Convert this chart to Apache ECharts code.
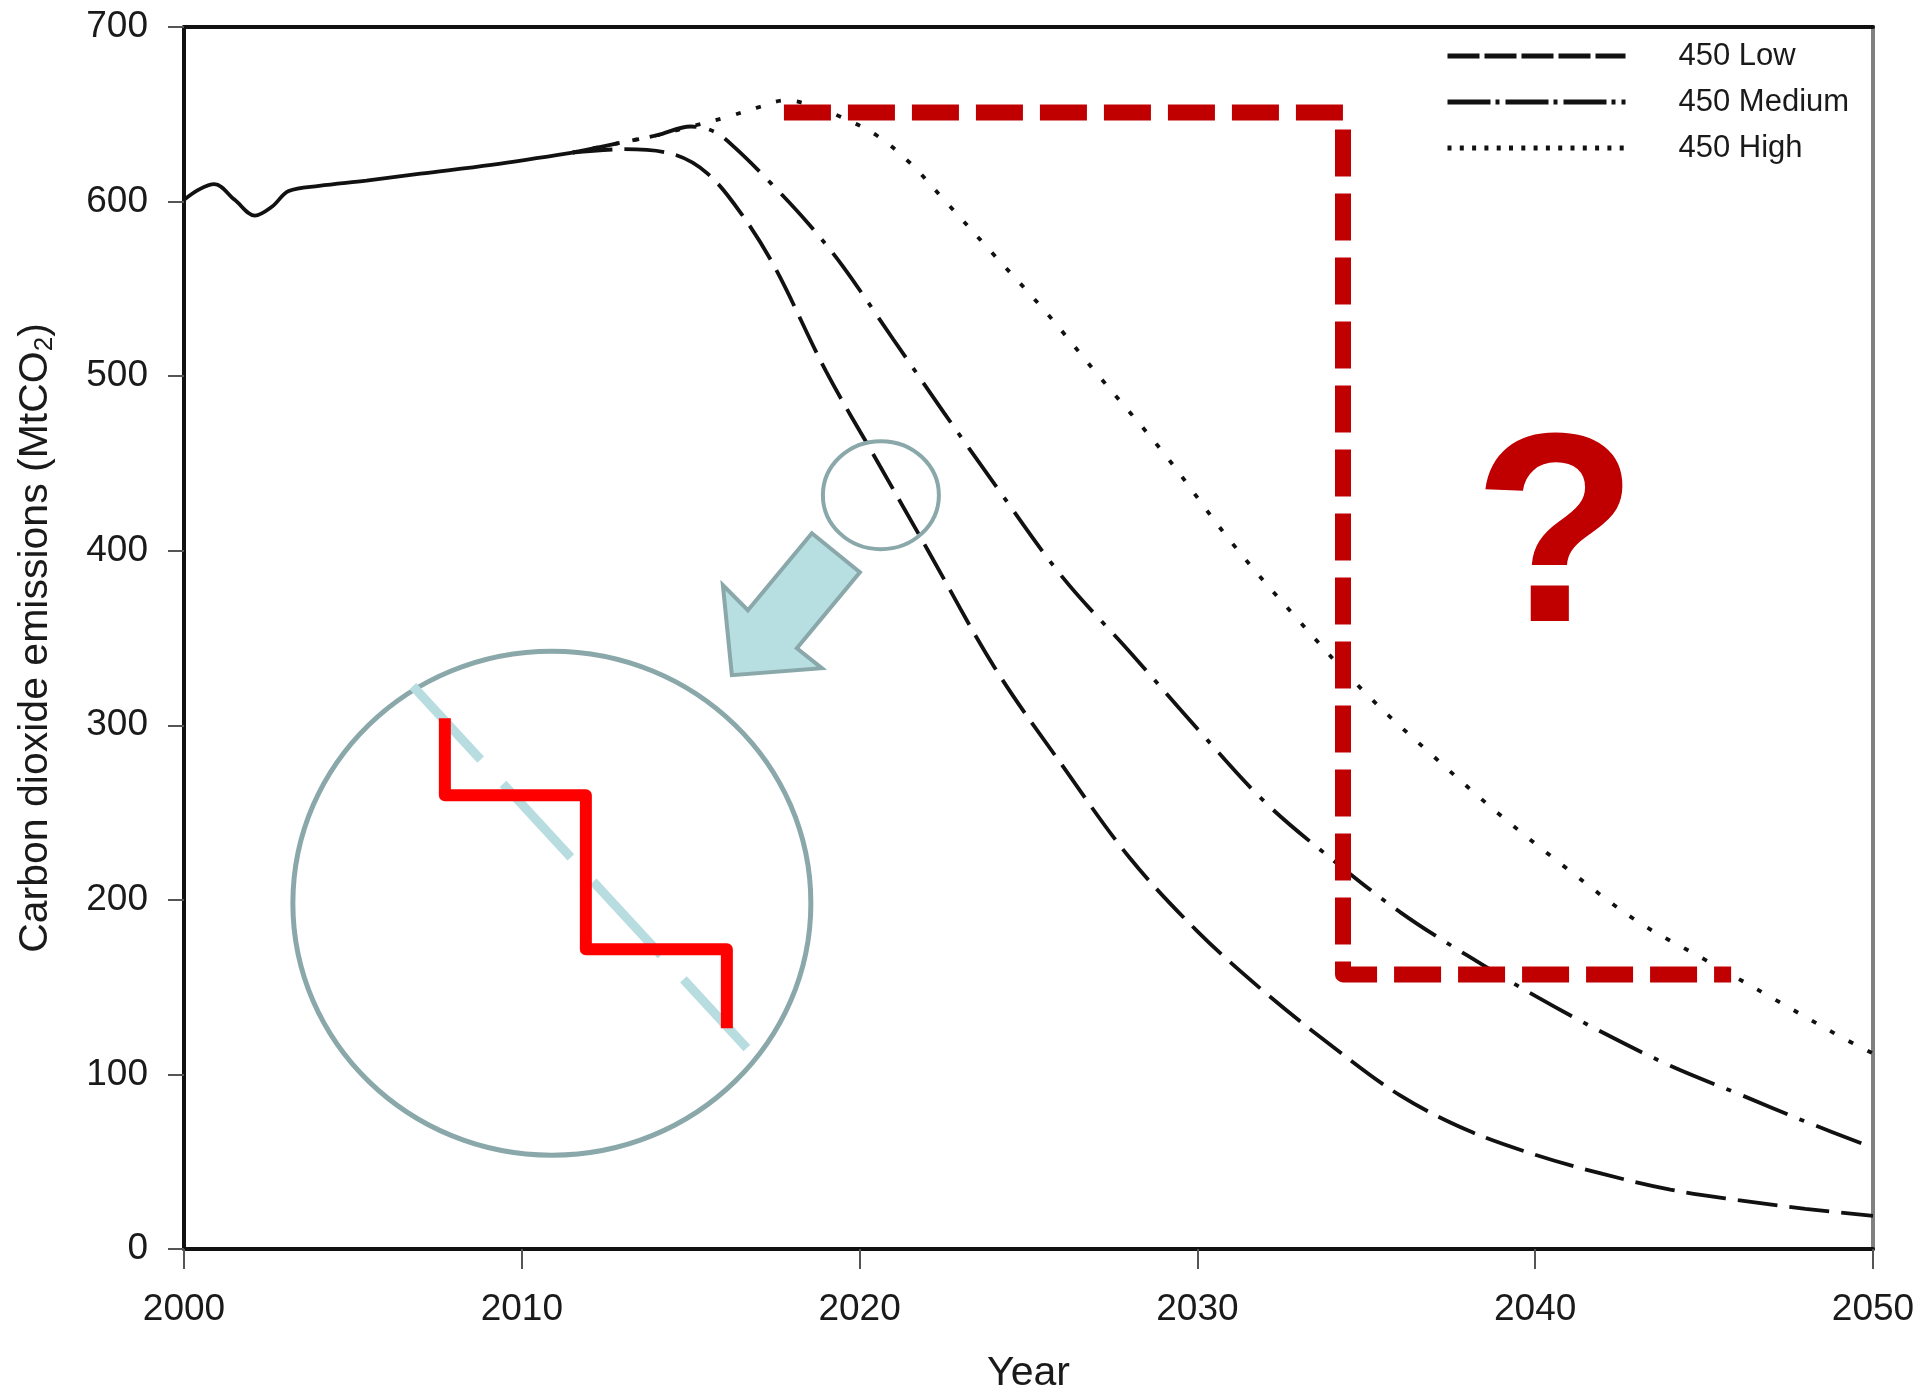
<!DOCTYPE html>
<html>
<head>
<meta charset="utf-8">
<script src="https://cdn.jsdelivr.net/npm/echarts@6/dist/echarts.min.js"></script>
<style>
  html, body { margin: 0; padding: 0; background: #ffffff; }
  #chart { width: 1920px; height: 1392px; }
</style>
</head>
<body>
<div id="chart"></div>
<script>
// ---------------- data ----------------
const xTicks = [2000, 2010, 2020, 2030, 2040, 2050];
const yTicks = [0, 100, 200, 300, 400, 500, 600, 700];

const histYears  = [2000, 2000.45, 2000.9, 2001.5, 2002.1, 2002.6, 2003.1, 2004, 2005.4, 2007, 2009.1, 2011.5];
const histValues = [601, 607, 610, 601, 592, 597, 606, 609, 612, 616, 621, 628];

const lowYears  = [2011.5, 2013, 2014.5, 2015.5, 2016.5, 2017.5, 2019, 2020.5, 2022, 2024, 2026, 2028, 2030, 2032, 2034, 2036, 2038, 2040, 2042, 2044, 2046, 2048, 2050];
const lowValues = [628, 630, 627, 616, 593, 562, 503, 452, 401, 333, 277, 224, 182, 147, 116, 88, 68, 54, 43, 34, 28, 23, 19];

const medYears  = [2011.5, 2013, 2014, 2015, 2015.7, 2016.3, 2017.4, 2018.5, 2019.5, 2021, 2022.5, 2024, 2026, 2028, 2030, 2032, 2034, 2036, 2038, 2040, 2042, 2044, 2046, 2048, 2050];
const medValues = [628, 634, 638, 643, 640, 631, 610, 587, 563, 521, 479, 438, 385, 342, 298, 256, 223, 193, 168, 145, 124, 105, 89, 73, 58];

const highYears  = [2011.5, 2013, 2014, 2015, 2016, 2017, 2017.8, 2018.6, 2019.5, 2020.5, 2021.5, 2022.5, 2024, 2025.5, 2027, 2029, 2031, 2033, 2035, 2037, 2039, 2041, 2043, 2045, 2047, 2049, 2050];
const highValues = [628, 634, 638, 643, 648, 654, 658, 655, 648, 638, 622, 601, 569, 537, 502, 456, 405, 360, 318, 282, 248, 217, 188, 166, 144, 122, 112];

const seriesNames = ['450 Low', '450 Medium', '450 High'];

// red dashed "gap" annotation (data coordinates)
const boxYears  = [2017.76, 2034.31, 2034.31, 2045.8];
const boxValues = [651, 651, 157.3, 157.3];

// annotation anchors (data coordinates)
const questionAnchor = [2040.6, 325];
const zoomCircleAnchor = [2020.63, 431.8];
const insetAnchor = [2010.89, 198.1];

const zip = (xs, ys) => xs.map((x, i) => [x, ys[i]]);

// ---------------- chart ----------------
const FONT = '"Liberation Sans", Arial, Helvetica, sans-serif';
const chart = echarts.init(document.getElementById('chart'), null, { renderer: 'canvas' });

const legendDash = [[32, 5], [43, 5, 4, 6], [4, 8.3]];

const option = {
  animation: false,
  backgroundColor: '#ffffff',
  textStyle: { fontFamily: FONT },
  grid: { left: 184, right: 47, top: 27, bottom: 143, containLabel: false, outerBoundsMode: 'none' },
  legend: {
    data: seriesNames.map((n, i) => ({
      name: n,
      lineStyle: { color: '#111', width: 5, type: legendDash[i], cap: 'butt' },
      itemStyle: { opacity: 0 }
    })),
    orient: 'vertical',
    left: 1440,
    top: 33,
    itemWidth: 178,
    itemHeight: 14,
    itemGap: 10,
    itemStyle: { opacity: 0 },
    textStyle: { fontSize: 31, color: '#1a1a1a', fontFamily: FONT, lineHeight: 36, padding: [0, 0, 0, 48] }
  },
  xAxis: [{
    type: 'value', min: xTicks[0], max: xTicks[xTicks.length - 1], interval: 10,
    name: 'Year', nameLocation: 'middle', nameGap: 104,
    nameTextStyle: { fontSize: 41, color: '#1a1a1a', fontFamily: FONT },
    axisLine: { show: true, onZero: false, lineStyle: { color: '#111', width: 4 } },
    axisTick: { show: true, inside: false, length: 20, lineStyle: { color: '#555', width: 2 } },
    axisLabel: { fontSize: 37, color: '#1a1a1a', margin: 42, fontFamily: FONT, formatter: v => String(v) },
    splitLine: { show: false }
  }, {
    type: 'value', position: 'top', min: xTicks[0], max: xTicks[xTicks.length - 1],
    axisLine: { show: true, onZero: false, lineStyle: { color: '#111', width: 4 } },
    axisTick: { show: false }, axisLabel: { show: false }, splitLine: { show: false }
  }],
  yAxis: [{
    type: 'value', min: yTicks[0], max: yTicks[yTicks.length - 1], interval: 100,
    name: 'Carbon dioxide emissions (MtCO{sub|2})',
    nameLocation: 'middle', nameGap: 126, nameRotate: 90,
    nameTextStyle: {
      fontSize: 41, color: '#1a1a1a', fontFamily: FONT,
      rich: { sub: { fontSize: 26, color: '#1a1a1a', fontFamily: FONT, verticalAlign: 'bottom', padding: [18, 0, 0, 0] } }
    },
    axisLine: { show: true, onZero: false, lineStyle: { color: '#111', width: 4 } },
    axisTick: { show: true, inside: false, length: 16, lineStyle: { color: '#555', width: 2 } },
    axisLabel: { fontSize: 37, color: '#1a1a1a', margin: 36, fontFamily: FONT },
    splitLine: { show: false }
  }, {
    type: 'value', position: 'right', min: yTicks[0], max: yTicks[yTicks.length - 1],
    axisLine: { show: true, onZero: false, lineStyle: { color: '#808080', width: 4 } },
    axisTick: { show: false }, axisLabel: { show: false }, splitLine: { show: false }
  }],
  series: [
    {
      name: 'Historical', type: 'line', data: zip(histYears, histValues),
      symbol: 'none', smooth: 0.35, silent: true, z: 3,
      itemStyle: { color: '#111' },
      lineStyle: { color: '#111', width: 3.8, type: 'solid' }
    },
    {
      name: seriesNames[0], type: 'line', data: zip(lowYears, lowValues),
      symbol: 'none', smooth: 0.35, silent: true, z: 3,
      itemStyle: { color: '#111' },
      lineStyle: { color: '#111', width: 3.8, type: [40, 12], cap: 'butt' }
    },
    {
      name: seriesNames[1], type: 'line', data: zip(medYears, medValues),
      symbol: 'none', smooth: 0.35, silent: true, z: 3,
      itemStyle: { color: '#111' },
      lineStyle: { color: '#111', width: 3.8, type: [48, 13, 5, 13], cap: 'butt' }
    },
    {
      name: seriesNames[2], type: 'line', data: zip(highYears, highValues),
      symbol: 'none', smooth: 0.35, silent: true, z: 3,
      itemStyle: { color: '#111' },
      lineStyle: { color: '#111', width: 3.8, type: [5, 16], cap: 'butt' }
    },
    {
      name: 'gap', type: 'line', data: zip(boxYears, boxValues),
      symbol: 'none', smooth: false, silent: true, z: 6,
      itemStyle: { color: '#c00000' },
      lineStyle: { color: '#c00000', width: 16, type: [47, 17], cap: 'butt', join: 'round' }
    }
  ]
};

chart.setOption(option);

// ---------------- illustrative annotations ----------------
const px = p => chart.convertToPixel({ gridIndex: 0 }, p);
const q = px(questionAnchor);
const zc = px(zoomCircleAnchor);
const ic = px(insetAnchor);

const rel = (c, pts) => pts.map(p => [c[0] + p[0], c[1] + p[1]]);

const arrowShape = [[-149, 180], [-158, 90], [-133, 115], [-69, 38], [-21, 77], [-84, 153], [-59, 173]];
const stepShape = [[-107, -185], [-107, -108], [34, -108], [34, 46], [175, 46], [175, 125]];
const diagShape = [[-139, -217], [195, 145]];

chart.setOption({
  graphic: [
    {
      type: 'text', z: 50,
      style: {
        x: q[0], y: q[1], text: '?', fill: '#c00000',
        font: 'bold 270px ' + FONT, textAlign: 'center', textVerticalAlign: 'bottom'
      }
    },
    {
      type: 'ellipse', z: 40,
      shape: { cx: zc[0], cy: zc[1], rx: 58, ry: 54 },
      style: { fill: 'rgba(0,0,0,0)', stroke: '#8aa8aa', lineWidth: 4 }
    },
    {
      type: 'polygon', z: 40,
      shape: { points: rel(zc, arrowShape) },
      style: { fill: '#b7dee1', stroke: '#8aa8aa', lineWidth: 4, lineJoin: 'miter' }
    },
    {
      type: 'ellipse', z: 40,
      shape: { cx: ic[0], cy: ic[1], rx: 259, ry: 252 },
      style: { fill: '#ffffff', stroke: '#8aa8aa', lineWidth: 5 }
    },
    {
      type: 'polyline', z: 41,
      shape: { points: rel(ic, diagShape) },
      style: { stroke: '#b7dde0', lineWidth: 9, lineDash: [100, 33], fill: null }
    },
    {
      type: 'polyline', z: 42,
      shape: { points: rel(ic, stepShape) },
      style: { stroke: '#ff0000', lineWidth: 12, lineJoin: 'round', lineCap: 'butt', fill: null }
    }
  ]
});
</script>
</body>
</html>
